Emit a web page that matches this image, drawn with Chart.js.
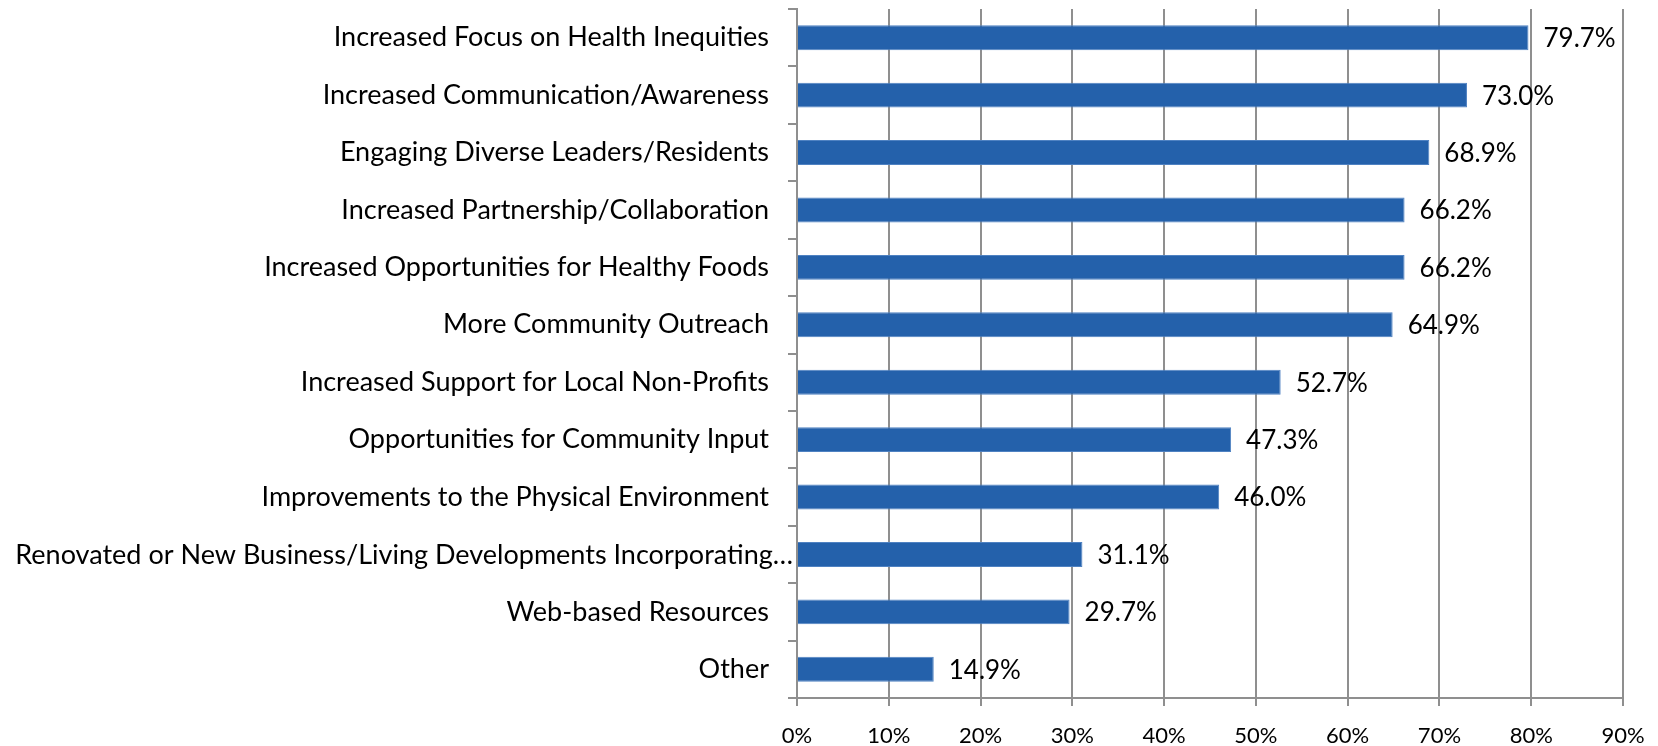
<!DOCTYPE html>
<html>
<head>
<meta charset="utf-8">
<script src="https://cdn.jsdelivr.net/npm/chart.js@4.4.1/dist/chart.umd.min.js"></script>
<style>
  html, body { margin: 0; padding: 0; background: #fff; }
  #chart { display: block; }
</style>
</head>
<body>
<canvas id="chart" width="1658" height="746"></canvas>
<script>
const categories = [
    'Increased Focus on Health Inequities',
    'Increased Communication/Awareness',
    'Engaging Diverse Leaders/Residents',
    'Increased Partnership/Collaboration',
    'Increased Opportunities for Healthy Foods',
    'More Community Outreach',
    'Increased Support for Local Non-Profits',
    'Opportunities for Community Input',
    'Improvements to the Physical Environment',
    'Renovated or New Business/Living Developments Incorporating…',
    'Web-based Resources',
    'Other'
];
const percentages = [79.7, 73.0, 68.9, 66.2, 66.2, 64.9, 52.7, 47.3, 46.0, 31.1, 29.7, 14.9];
const xTicks = [0, 10, 20, 30, 40, 50, 60, 70, 80, 90];
// the truncated label runs past the others, right up to the axis
const overflowIndex = 9;

const FONT = 'Lato, "Open Sans", sans-serif';
const GRID = '#8f8f8f';

// writes "79.7%" etc. just past the end of each bar, plus the long category label
const valueLabels = {
    id: 'valueLabels',
    afterDatasetsDraw(chart) {
        const ctx = chart.ctx;
        const meta = chart.getDatasetMeta(0);
        ctx.save();
        ctx.font = '26px ' + FONT;
        ctx.fillStyle = '#000';
        ctx.textAlign = 'left';
        ctx.textBaseline = 'middle';
        meta.data.forEach((bar, i) => {
            ctx.fillText(percentages[i].toFixed(1) + '%', bar.x + 15, bar.y + 1);
        });
        const y = chart.scales.y;
        ctx.font = '27px ' + FONT;
        ctx.textAlign = 'right';
        ctx.fillText(categories[overflowIndex], y.right - 4, y.getPixelForValue(overflowIndex) + 1);
        ctx.restore();
    }
};

new Chart(document.getElementById('chart'), {
    type: 'bar',
    data: {
        labels: categories,
        datasets: [{
            data: percentages,
            backgroundColor: '#2461ab',
            borderColor: '#4f82c2',
            borderWidth: 1,
            categoryPercentage: 1,
            barPercentage: 0.435
        }]
    },
    options: {
        indexAxis: 'y',
        responsive: false,
        animation: false,
        layout: { padding: { top: 9, right: 35, left: 0, bottom: 0 } },
        plugins: {
            legend: { display: false },
            tooltip: { enabled: false }
        },
        scales: {
            x: {
                min: 0,
                max: 90,
                afterBuildTicks: (scale) => { scale.ticks = xTicks.map(v => ({ value: v })); },
                afterFit: (scale) => {
                    scale.height = 48;
                    scale.paddingLeft = 0;
                    scale.paddingRight = 0;
                },
                grid: { color: GRID, lineWidth: 2, tickLength: 8 },
                border: { color: GRID, width: 2 },
                ticks: {
                    color: '#000',
                    font: { family: FONT, size: 22 },
                    padding: 17,
                    callback: (v) => v + '%'
                }
            },
            y: {
                afterFit: (scale) => {
                    scale.width = 797;
                    scale.paddingTop = 0;
                    scale.paddingBottom = 0;
                },
                grid: { drawOnChartArea: false, color: GRID, lineWidth: 2, tickLength: 9 },
                border: { color: GRID, width: 2 },
                ticks: {
                    color: '#000',
                    font: { family: FONT, size: 27 },
                    padding: 19,
                    autoSkip: false,
                    callback: (v, i) => (i === overflowIndex ? '' : categories[i])
                }
            }
        }
    },
    plugins: [valueLabels]
});
</script>
</body>
</html>
